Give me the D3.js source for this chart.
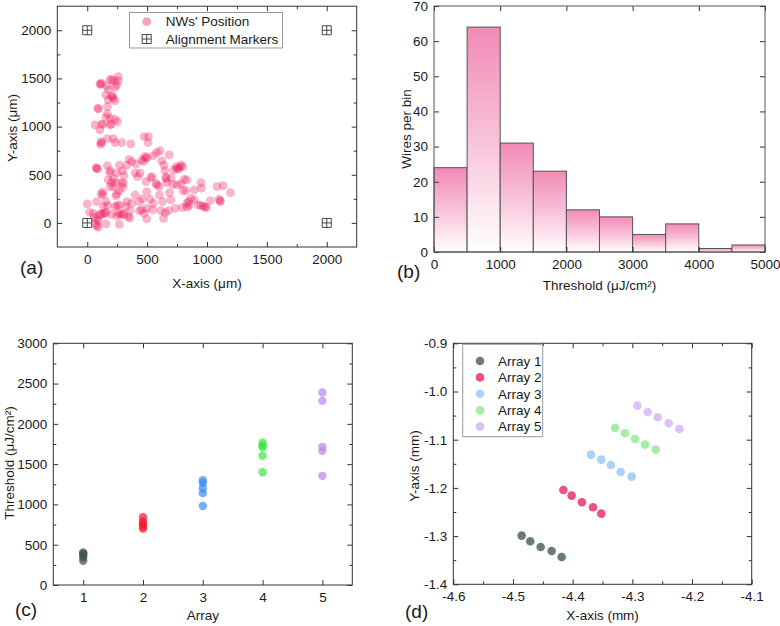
<!DOCTYPE html>
<html><head><meta charset="utf-8">
<script src="https://cdn.jsdelivr.net/npm/d3@7"></script>
<style>
body{margin:0;background:#fff}
svg{display:block}
text{font-family:"Liberation Sans",Arial,sans-serif;fill:#1a1a1a}
</style>
</head><body>
<svg id="chart" width="780" height="626"></svg>
<script>
// ---------- DATA ----------
// (a) nanowire positions (µm)
const nwX=[260,223,260,190,205,120,106,112,162,232,246,176,204,218,210,156,176,232,87,95,168,168,190,156,232,252,64,120,130,106,190,200,218,168,120,115,232,288,112,363,475,511,508,
372,408,455,553,609,580,684,622,480,490,470,500,441,491,542,530,580,575,664,656,648,687,749,782,715,799,832,743,721,760,810,799,782,775,749,824,894,950,953,1084,1134,1196,1100,1110,1028,894,866,846,832,832,850,925,950,970,985,995,1111,640,700,
73,87,80,168,190,190,246,293,307,176,204,240,288,302,190,218,268,246,240,296,115,129,130,78,156,134,0,50,100,115,130,156,145,78,92,73,92,80,156,246,232,250,268,260,280,295,307,324,330,372,358,344,355,268,435,435,455,497,475,497,547,553,525,603,628,614,651,637,679,698,735,793,497,400,600,660,330,350,400,460,170,200,220,270,20,60,420];
const nwY=[1519,1477,1474,1484,1490,1450,1443,1438,1422,1408,1432,1387,1311,1294,1320,1329,1277,1270,1190,1185,1208,1131,1086,1097,1076,1052,1017,1028,1022,965,1017,1025,875,875,844,830,834,834,816,820,896,896,834,
637,612,654,699,751,730,706,644,690,670,640,680,516,429,481,470,394,410,419,474,543,315,394,405,401,336,446,585,550,560,453,585,602,580,561,336,343,419,360,377,388,315,246,230,232,239,256,221,204,163,180,187,180,175,165,160,221,600,470,
574,560,565,595,543,522,519,540,491,446,422,419,419,410,377,377,336,301,280,370,301,322,290,221,221,170,197,100,83,90,95,110,100,38,24,-10,-45,-30,-10,73,170,180,187,100,90,95,83,170,221,204,128,66,50,-14,221,125,135,152,100,42,135,204,246,291,221,128,107,48,128,239,152,159,325,290,380,460,600,660,520,250,180,90,460,600,110,60,480];
const markerX=[0,2000,0,2000];
const markerY=[2000,2000,0,0];
const legendA=["NWs' Position","Alignment Markers"];

// (b) histogram of threshold (µJ/cm²)
const binStart=[0,500,1000,1500,2000,2500,3000,3500,4000,4500];
const binCount=[24,64,31,23,12,10,5,8,1,2];

// (c) threshold by array
const arrayIds=[1,2,3,4,5];
const thr1=[300,340,370,390,405];
const thr2=[700,730,760,790,840];
const thr3=[980,1140,1200,1270,1300];
const thr4=[1400,1605,1710,1730,1765];
const thr5=[1355,1665,1715,2285,2390];

// (d) array positions (mm)
const arrayNames=["Array 1","Array 2","Array 3","Array 4","Array 5"];
const posX1=[-4.4855,-4.471,-4.4536,-4.4352,-4.4184];
const posY1=[-1.299,-1.3108,-1.3225,-1.3308,-1.3433];
const posX2=[-4.4156,-4.4017,-4.3844,-4.3659,-4.352];
const posY2=[-1.2043,-1.216,-1.2299,-1.2402,-1.2534];
const posX3=[-4.3693,-4.352,-4.3358,-4.3196,-4.3011];
const posY3=[-1.131,-1.1414,-1.1524,-1.167,-1.1766];
const posX4=[-4.329,-4.3123,-4.2955,-4.2788,-4.2609];
const posY4=[-1.0757,-1.0867,-1.0985,-1.1102,-1.1206];
const posX5=[-4.2916,-4.2743,-4.2575,-4.2391,-4.2212];
const posY5=[-1.0293,-1.0425,-1.0535,-1.066,-1.0777];

// ---------- DRAW ----------
const svg=d3.select("#chart");
const FS=13.5;

function styleAxis(sel){
  sel.select(".domain").remove();
  sel.selectAll(".tick line").attr("stroke","#333").attr("stroke-width",1);
  sel.selectAll(".tick text").attr("font-size",FS).attr("fill","#1a1a1a")
     .attr("font-family",'"Liberation Sans",Arial,sans-serif');
}
function panelFrame(x,y,o){
  const [x0,x1]=x.range(), [y0,y1]=y.range();
  const g=svg.append("g");
  const maj=5, mn=3;
  g.append("g").attr("transform",`translate(0,${y0})`)
    .call(d3.axisBottom(x).tickValues(o.xt).tickSize(-maj).tickPadding(7).tickFormat(o.xf)).call(styleAxis);
  g.append("g").attr("transform",`translate(0,${y1})`)
    .call(d3.axisTop(x).tickValues(o.xt).tickSize(-maj).tickFormat("")).call(styleAxis);
  g.append("g").attr("transform",`translate(${x0},0)`)
    .call(d3.axisLeft(y).tickValues(o.yt).tickSize(-maj).tickPadding(6).tickFormat(o.yf)).call(styleAxis);
  g.append("g").attr("transform",`translate(${x1},0)`)
    .call(d3.axisRight(y).tickValues(o.yt).tickSize(-maj).tickFormat("")).call(styleAxis);
  if(o.xm){
    g.append("g").attr("transform",`translate(0,${y0})`).call(d3.axisBottom(x).tickValues(o.xm).tickSize(-mn).tickFormat("")).call(styleAxis);
    g.append("g").attr("transform",`translate(0,${y1})`).call(d3.axisTop(x).tickValues(o.xm).tickSize(-mn).tickFormat("")).call(styleAxis);
  }
  if(o.ym){
    g.append("g").attr("transform",`translate(${x0},0)`).call(d3.axisLeft(y).tickValues(o.ym).tickSize(-mn).tickFormat("")).call(styleAxis);
    g.append("g").attr("transform",`translate(${x1},0)`).call(d3.axisRight(y).tickValues(o.ym).tickSize(-mn).tickFormat("")).call(styleAxis);
  }
  g.append("rect").attr("x",x0).attr("y",y1).attr("width",x1-x0).attr("height",y0-y1)
    .attr("fill","none").attr("stroke",o.frameColor||"#333").attr("stroke-width",1);
  svg.append("text").attr("x",(x0+x1)/2).attr("y",o.xtY).attr("text-anchor","middle").attr("font-size",FS).text(o.xtitle);
  svg.append("text").attr("transform",`translate(${o.ytX},${o.ytY}) rotate(-90)`).attr("text-anchor","middle")
    .attr("dy","0.35em").attr("font-size",FS).text(o.ytitle);
  svg.append("text").attr("x",o.lx).attr("y",o.ly).attr("font-size",19).text(o.letter);
  return g;
}
function markerPath(cx,cy,s){
  const h=s/2;
  return `M${cx-h},${cy-h}h${s}v${s}h${-s}z M${cx},${cy-h}v${s} M${cx-h},${cy}h${s}`;
}

// ---- Panel (a)
{
  const x=d3.scaleLinear().domain([-250,2250]).range([57.3,356.7]);
  const y=d3.scaleLinear().domain([-250,2250]).range([247,6.2]);
  const g=svg.append("g");
  g.selectAll("circle").data(nwX.map((v,i)=>[v,nwY[i]])).join("circle")
    .attr("cx",d=>x(d[0])).attr("cy",d=>y(d[1])).attr("r",4.4)
    .attr("fill","rgb(238,25,90)").attr("fill-opacity",0.32);
  g.selectAll("path.mk").data(markerX.map((v,i)=>[v,markerY[i]])).join("path").attr("class","mk")
    .attr("d",d=>markerPath(x(d[0]),y(d[1]),9)).attr("fill","none").attr("stroke","#333").attr("stroke-width",0.9);
  panelFrame(x,y,{xt:[0,500,1000,1500,2000],xm:[250,750,1250,1750],yt:[0,500,1000,1500,2000],ym:[250,750,1250,1750],
    xf:d3.format("d"),yf:d3.format("d"),xtitle:"X-axis (\u03bcm)",ytitle:"Y-axis (\u03bcm)",xtY:288,ytX:12.5,ytY:128,
    letter:"(a)",lx:20,ly:274});
  const lg=svg.append("g");
  lg.append("rect").attr("x",129.5).attr("y",12.5).attr("width",153).attr("height",35.5).attr("fill","#fff").attr("stroke","#999");
  lg.append("circle").attr("cx",146.7).attr("cy",21.7).attr("r",4.4).attr("fill","rgb(238,25,90)").attr("fill-opacity",0.4);
  lg.append("path").attr("d",markerPath(146.7,39,9)).attr("fill","none").attr("stroke","#333").attr("stroke-width",0.9);
  lg.selectAll("text").data(legendA).join("text").attr("x",165.7).attr("y",(d,i)=>21.7+i*17.3).attr("dy","0.35em")
    .attr("font-size",FS).text(d=>d);
}

// ---- Panel (b)
{
  const x=d3.scaleLinear().domain([0,5000]).range([434,765]);
  const y=d3.scaleLinear().domain([0,70]).range([252,6]);
  const defs=svg.append("defs");
  const gr=defs.append("linearGradient").attr("id","pinkGrad").attr("x1",0).attr("y1",0).attr("x2",0).attr("y2",1);
  gr.append("stop").attr("offset",0).attr("stop-color","#f28ab5");
  gr.append("stop").attr("offset",0.45).attr("stop-color","#f7bcd5");
  gr.append("stop").attr("offset",1).attr("stop-color","#ffffff");
  svg.append("g").selectAll("rect").data(binStart.map((v,i)=>[v,binCount[i]])).join("rect")
    .attr("x",d=>x(d[0])).attr("width",d=>x(d[0]+500)-x(d[0]))
    .attr("y",d=>y(d[1])).attr("height",d=>y(0)-y(d[1]))
    .attr("fill","url(#pinkGrad)").attr("stroke","#555").attr("stroke-width",1);
  panelFrame(x,y,{xt:[0,1000,2000,3000,4000,5000],yt:[0,10,20,30,40,50,60,70],
    xf:d3.format("d"),yf:d3.format("d"),xtitle:"Threshold (\u03bcJ/cm\u00b2)",ytitle:"Wires per bin",xtY:290,ytX:406.5,ytY:129,
    letter:"(b)",lx:397,ly:278,frameColor:"#555"});
}

// ---- Panel (c)
{
  const x=d3.scaleLinear().domain([0.5,5.5]).range([53.3,352.3]);
  const y=d3.scaleLinear().domain([0,3000]).range([585,343.3]);
  const colorsC=["#3e5150","#f5142e","#3b8cf2","#3de63d","#b386f0"];
  const sets=[thr1,thr2,thr3,thr4,thr5];
  const g=svg.append("g");
  sets.forEach((s,k)=>{
    g.append("g").selectAll("circle").data(s).join("circle")
      .attr("cx",x(arrayIds[k])).attr("cy",d=>y(d)).attr("r",4.2)
      .attr("fill",colorsC[k]).attr("fill-opacity",0.7);
  });
  panelFrame(x,y,{xt:[1,2,3,4,5],yt:[0,500,1000,1500,2000,2500,3000],ym:[250,750,1250,1750,2250,2750],
    xf:d3.format("d"),yf:d3.format("d"),xtitle:"Array",ytitle:"Threshold (\u03bcJ/cm\u00b2)",xtY:620,ytX:9,ytY:463,
    letter:"(c)",lx:15,ly:616});
}

// ---- Panel (d)
{
  const x=d3.scaleLinear().domain([-4.6,-4.1]).range([453.3,751.7]);
  const y=d3.scaleLinear().domain([-1.4,-0.9]).range([584.3,343.3]);
  const colorsD=["#6b7b77","#f0507c","#a9d2f8","#a3eea3","#dcc3f7"];
  const xs=[posX1,posX2,posX3,posX4,posX5], ys=[posY1,posY2,posY3,posY4,posY5];
  const g=svg.append("g");
  xs.forEach((s,k)=>{
    g.append("g").selectAll("circle").data(s.map((v,i)=>[v,ys[k][i]])).join("circle")
      .attr("cx",d=>x(d[0])).attr("cy",d=>y(d[1])).attr("r",4.3).attr("fill",colorsD[k]);
  });
  const f1=d=>d.toFixed(1);
  panelFrame(x,y,{xt:[-4.6,-4.5,-4.4,-4.3,-4.2,-4.1],xm:[-4.55,-4.45,-4.35,-4.25,-4.15],
    yt:[-1.4,-1.3,-1.2,-1.1,-1.0,-0.9],ym:[-1.35,-1.25,-1.15,-1.05,-0.95],
    xf:f1,yf:f1,xtitle:"X-axis (mm)",ytitle:"Y-axis (mm)",xtY:620,ytX:414,ytY:466,
    letter:"(d)",lx:405,ly:618});
  const lg=svg.append("g");
  lg.append("rect").attr("x",462.7).attr("y",344.3).attr("width",80).attr("height",92.4).attr("fill","#fff").attr("stroke","#999");
  arrayNames.forEach((n,k)=>{
    const yy=361+k*16.4;
    lg.append("circle").attr("cx",480).attr("cy",yy).attr("r",4.3).attr("fill",colorsD[k]);
    lg.append("text").attr("x",498).attr("y",yy).attr("dy","0.35em").attr("font-size",FS).text(n);
  });
}
</script>
</body></html>
